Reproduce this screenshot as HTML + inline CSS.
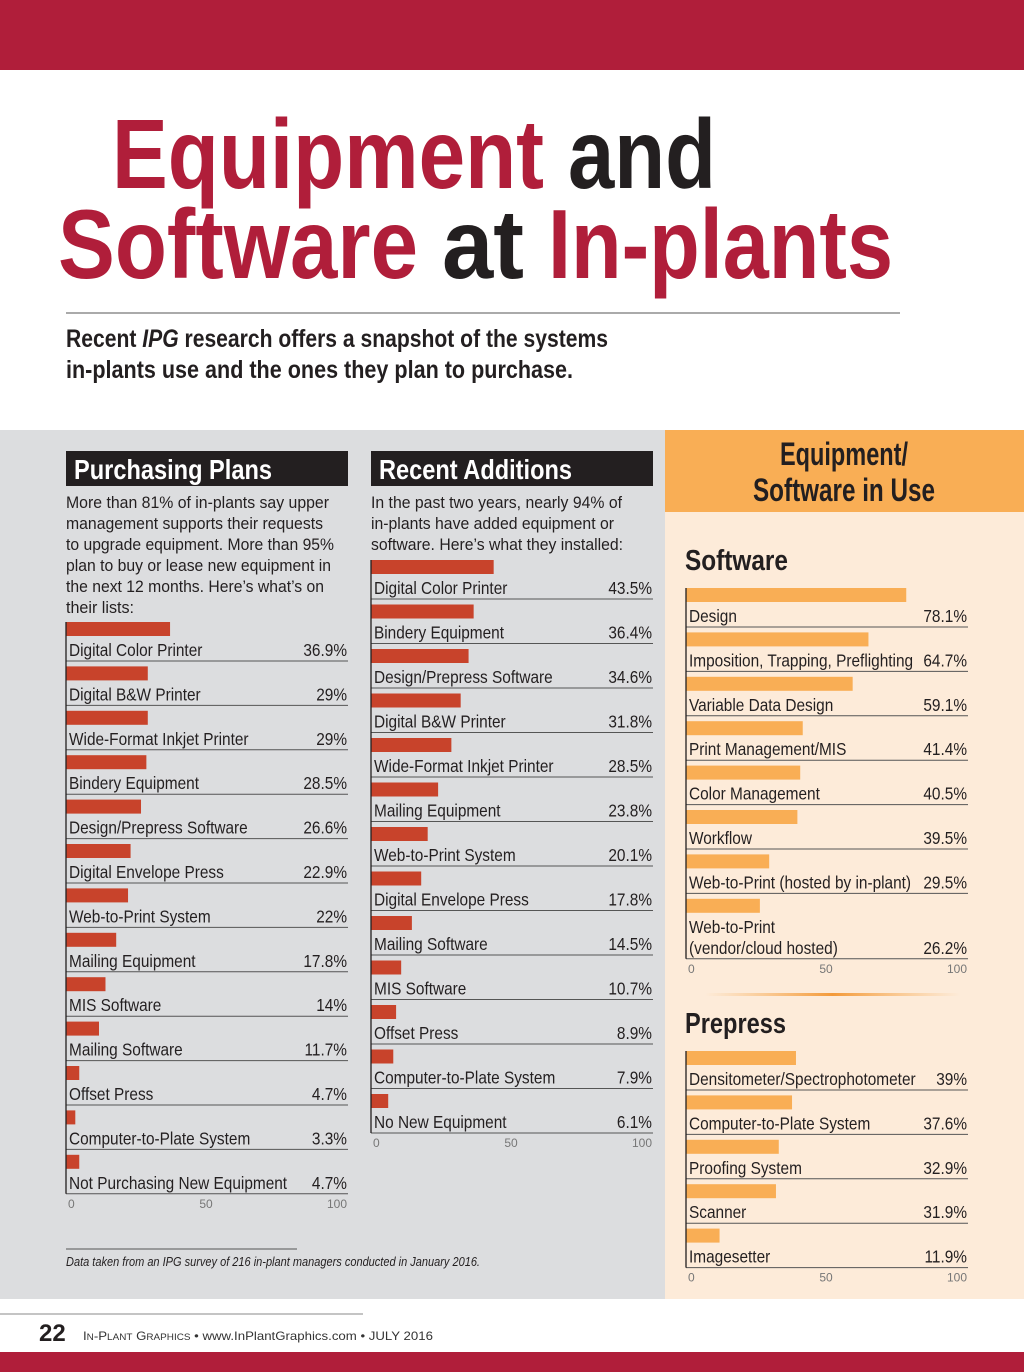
<!DOCTYPE html>
<html><head><meta charset="utf-8"><style>
html,body{margin:0;padding:0;background:#fff}
svg{display:block}
text{font-family:"Liberation Sans Narrow","Liberation Sans",sans-serif}
</style></head><body>
<svg id="pg" width="1024" height="1372" viewBox="0 0 1024 1372" xmlns="http://www.w3.org/2000/svg">
<defs>
<linearGradient id="fade" x1="0" x2="1" y1="0" y2="0">
<stop offset="0" stop-color="#f9ae55" stop-opacity="0"/><stop offset="0.5" stop-color="#f39a3a"/><stop offset="1" stop-color="#f9ae55" stop-opacity="0"/>
</linearGradient>
</defs>
<rect x="0" y="0" width="1024" height="70" fill="#b01e3a"/>
<text x="112" y="188" font-size="98" font-weight="bold" fill="#b01e3a" textLength="432" lengthAdjust="spacingAndGlyphs">Equipment</text>
<text x="568" y="188" font-size="98" font-weight="bold" fill="#231f20" textLength="148" lengthAdjust="spacingAndGlyphs">and</text>
<text x="58" y="278" font-size="98" font-weight="bold" fill="#b01e3a" textLength="360" lengthAdjust="spacingAndGlyphs">Software</text>
<text x="442" y="278" font-size="98" font-weight="bold" fill="#231f20" textLength="82" lengthAdjust="spacingAndGlyphs">at</text>
<text x="548" y="278" font-size="98" font-weight="bold" fill="#b01e3a" textLength="345" lengthAdjust="spacingAndGlyphs">In-plants</text>
<line x1="66" y1="313" x2="900" y2="313" stroke="#555" stroke-width="1"/>
<text x="66" y="347" font-size="25" font-weight="bold" fill="#231f20" textLength="542" lengthAdjust="spacingAndGlyphs">Recent <tspan font-style="italic">IPG</tspan> research offers a snapshot of the systems</text>
<text x="66" y="378" font-size="25" font-weight="bold" fill="#231f20" textLength="507" lengthAdjust="spacingAndGlyphs">in-plants use and the ones they plan to purchase.</text>

<rect x="0" y="430" width="665" height="869" fill="#dcdddf"/>
<rect x="665" y="430" width="359" height="82" fill="#f9ae55"/>
<rect x="665" y="512" width="359" height="787" fill="#fdebd9"/>
<text x="844" y="465" font-size="32" font-weight="bold" fill="#231f20" text-anchor="middle" textLength="128" lengthAdjust="spacingAndGlyphs">Equipment/</text>
<text x="844" y="501" font-size="32" font-weight="bold" fill="#231f20" text-anchor="middle" textLength="182" lengthAdjust="spacingAndGlyphs">Software in Use</text>

<rect x="66" y="451" width="282" height="35" fill="#231f20"/>
<text x="74" y="479" font-size="28" font-weight="bold" fill="#fff" textLength="198" lengthAdjust="spacingAndGlyphs">Purchasing Plans</text>
<rect x="371" y="451" width="282" height="35" fill="#231f20"/>
<text x="379" y="479" font-size="28" font-weight="bold" fill="#fff" textLength="193" lengthAdjust="spacingAndGlyphs">Recent Additions</text>

<g font-size="17" fill="#231f20">
<text x="66" y="508" textLength="263" lengthAdjust="spacingAndGlyphs">More than 81% of in-plants say upper</text>
<text x="66" y="529" textLength="257" lengthAdjust="spacingAndGlyphs">management supports their requests</text>
<text x="66" y="550" textLength="268" lengthAdjust="spacingAndGlyphs">to upgrade equipment. More than 95%</text>
<text x="66" y="571" textLength="265" lengthAdjust="spacingAndGlyphs">plan to buy or lease new equipment in</text>
<text x="66" y="592" textLength="258" lengthAdjust="spacingAndGlyphs">the next 12 months. Here’s what’s on</text>
<text x="66" y="613" textLength="68" lengthAdjust="spacingAndGlyphs">their lists:</text>
</g>
<g font-size="17" fill="#231f20">
<text x="371" y="508" textLength="251" lengthAdjust="spacingAndGlyphs">In the past two years, nearly 94% of</text>
<text x="371" y="529" textLength="243" lengthAdjust="spacingAndGlyphs">in-plants have added equipment or</text>
<text x="371" y="550" textLength="252" lengthAdjust="spacingAndGlyphs">software. Here’s what they installed:</text>
</g>
<text x="685" y="570" font-size="29" font-weight="bold" fill="#231f20" textLength="103" lengthAdjust="spacingAndGlyphs">Software</text>
<rect x="705" y="993" width="255" height="3" fill="url(#fade)"/>
<text x="685" y="1033" font-size="29" font-weight="bold" fill="#231f20" textLength="101" lengthAdjust="spacingAndGlyphs">Prepress</text>

<line x1="66" y1="1249" x2="297" y2="1249" stroke="#555" stroke-width="1"/>
<text x="66" y="1266" font-size="12.5" font-style="italic" fill="#231f20" textLength="414" lengthAdjust="spacingAndGlyphs">Data taken from an IPG survey of 216 in-plant managers conducted in January 2016.</text>

<line x1="0" y1="1314" x2="363" y2="1314" stroke="#888" stroke-width="1"/>
<text x="39" y="1341" font-family="Liberation Sans" font-size="24" font-weight="bold" fill="#231f20">22</text>
<text x="83" y="1340" font-family="Liberation Sans" font-size="12" fill="#333" textLength="350" lengthAdjust="spacingAndGlyphs">I<tspan font-size="9">N</tspan>-P<tspan font-size="9">LANT</tspan> G<tspan font-size="9">RAPHICS</tspan>  •  www.InPlantGraphics.com  •  JULY 2016</text>
<rect x="0" y="1352" width="1024" height="20" fill="#b01e3a"/>
<g id="charts"></g>
</svg>
<script>
const ppCats = ["Digital Color Printer","Digital B&W Printer","Wide-Format Inkjet Printer","Bindery Equipment","Design/Prepress Software","Digital Envelope Press","Web-to-Print System","Mailing Equipment","MIS Software","Mailing Software","Offset Press","Computer-to-Plate System","Not Purchasing New Equipment"];
const ppVals = [36.9,29,29,28.5,26.6,22.9,22,17.8,14,11.7,4.7,3.3,4.7];
const ppLabels = ["36.9%","29%","29%","28.5%","26.6%","22.9%","22%","17.8%","14%","11.7%","4.7%","3.3%","4.7%"];
const raCats = ["Digital Color Printer","Bindery Equipment","Design/Prepress Software","Digital B&W Printer","Wide-Format Inkjet Printer","Mailing Equipment","Web-to-Print System","Digital Envelope Press","Mailing Software","MIS Software","Offset Press","Computer-to-Plate System","No New Equipment"];
const raVals = [43.5,36.4,34.6,31.8,28.5,23.8,20.1,17.8,14.5,10.7,8.9,7.9,6.1];
const raLabels = ["43.5%","36.4%","34.6%","31.8%","28.5%","23.8%","20.1%","17.8%","14.5%","10.7%","8.9%","7.9%","6.1%"];
const swCats = ["Design","Imposition, Trapping, Preflighting","Variable Data Design","Print Management/MIS","Color Management","Workflow","Web-to-Print (hosted by in-plant)","Web-to-Print|(vendor/cloud hosted)"];
const swVals = [78.1,64.7,59.1,41.4,40.5,39.5,29.5,26.2];
const swLabels = ["78.1%","64.7%","59.1%","41.4%","40.5%","39.5%","29.5%","26.2%"];
const prCats = ["Densitometer/Spectrophotometer","Computer-to-Plate System","Proofing System","Scanner","Imagesetter"];
const prVals = [39,37.6,32.9,31.9,11.9];
const prLabels = ["39%","37.6%","32.9%","31.9%","11.9%"];
const axisTicks = [0,50,100];

const NS="http://www.w3.org/2000/svg";
const root=document.getElementById('charts');
const SX=0.88;
function mk(tag,attrs,parent){const e=document.createElementNS(NS,tag);for(const k in attrs)e.setAttribute(k,attrs[k]);parent.appendChild(e);return e;}
function ntext(g,x,y,str,anchor){
  const t=mk('text',{x:0,y:0,'font-size':17.5,fill:'#231f20','text-anchor':anchor,transform:'translate('+x+','+y+') scale('+SX+',1)'},g);
  t.textContent=str;
  return t;
}
function chart(name,cats,vals,labels,x0,top,color,pitch){
  const g=mk('g',{},root);
  
  
  const W=282;
  const xs=v=>x0+v/100*W;
  let y0=top, lastLine=top;
  cats.forEach((c,i)=>{
    const parts=c.split('|');
    const extra=(parts.length-1)*21;
    const b=mk('rect',{x:x0,y:y0,width:xs(vals[i])-x0,height:14,fill:color},g);
    
    
    parts.forEach((p,j)=>{
      const t=ntext(g,x0+3,y0+34+j*21,p,'start');
      
      
    });
    const v=ntext(g,xs(100)-1,y0+34+extra,labels[i],'end');
    
    
    const l=mk('line',{x1:x0,y1:y0+39+extra,x2:xs(100),y2:y0+39+extra,stroke:'#555','stroke-width':1},g);
    
    
    lastLine=y0+39+extra;
    y0+=pitch+extra;
  });
  const ax=mk('line',{x1:x0,y1:top,x2:x0,y2:lastLine,stroke:'#231f20','stroke-width':1.3},g);
  
  
  axisTicks.forEach((t,i)=>{
    const anchor=i===0?'start':(i===axisTicks.length-1?'end':'middle');
    const tx=mk('text',{x:i===0?xs(t)+2:xs(t)-1,y:lastLine+14,'font-size':12,fill:'#777','text-anchor':anchor,'font-family':'Liberation Sans'},g);
    tx.textContent=t;
    
    
  });
}
chart('purchasing-plans-chart',ppCats,ppVals,ppLabels,66,622,'#c8432b',44.4);
chart('recent-additions-chart',raCats,raVals,raLabels,371,560,'#c8432b',44.5);
chart('software-chart',swCats,swVals,swLabels,686,588,'#f9ae55',44.4);
chart('prepress-chart',prCats,prVals,prLabels,686,1051,'#f9ae55',44.4);
</script>
</body></html>
